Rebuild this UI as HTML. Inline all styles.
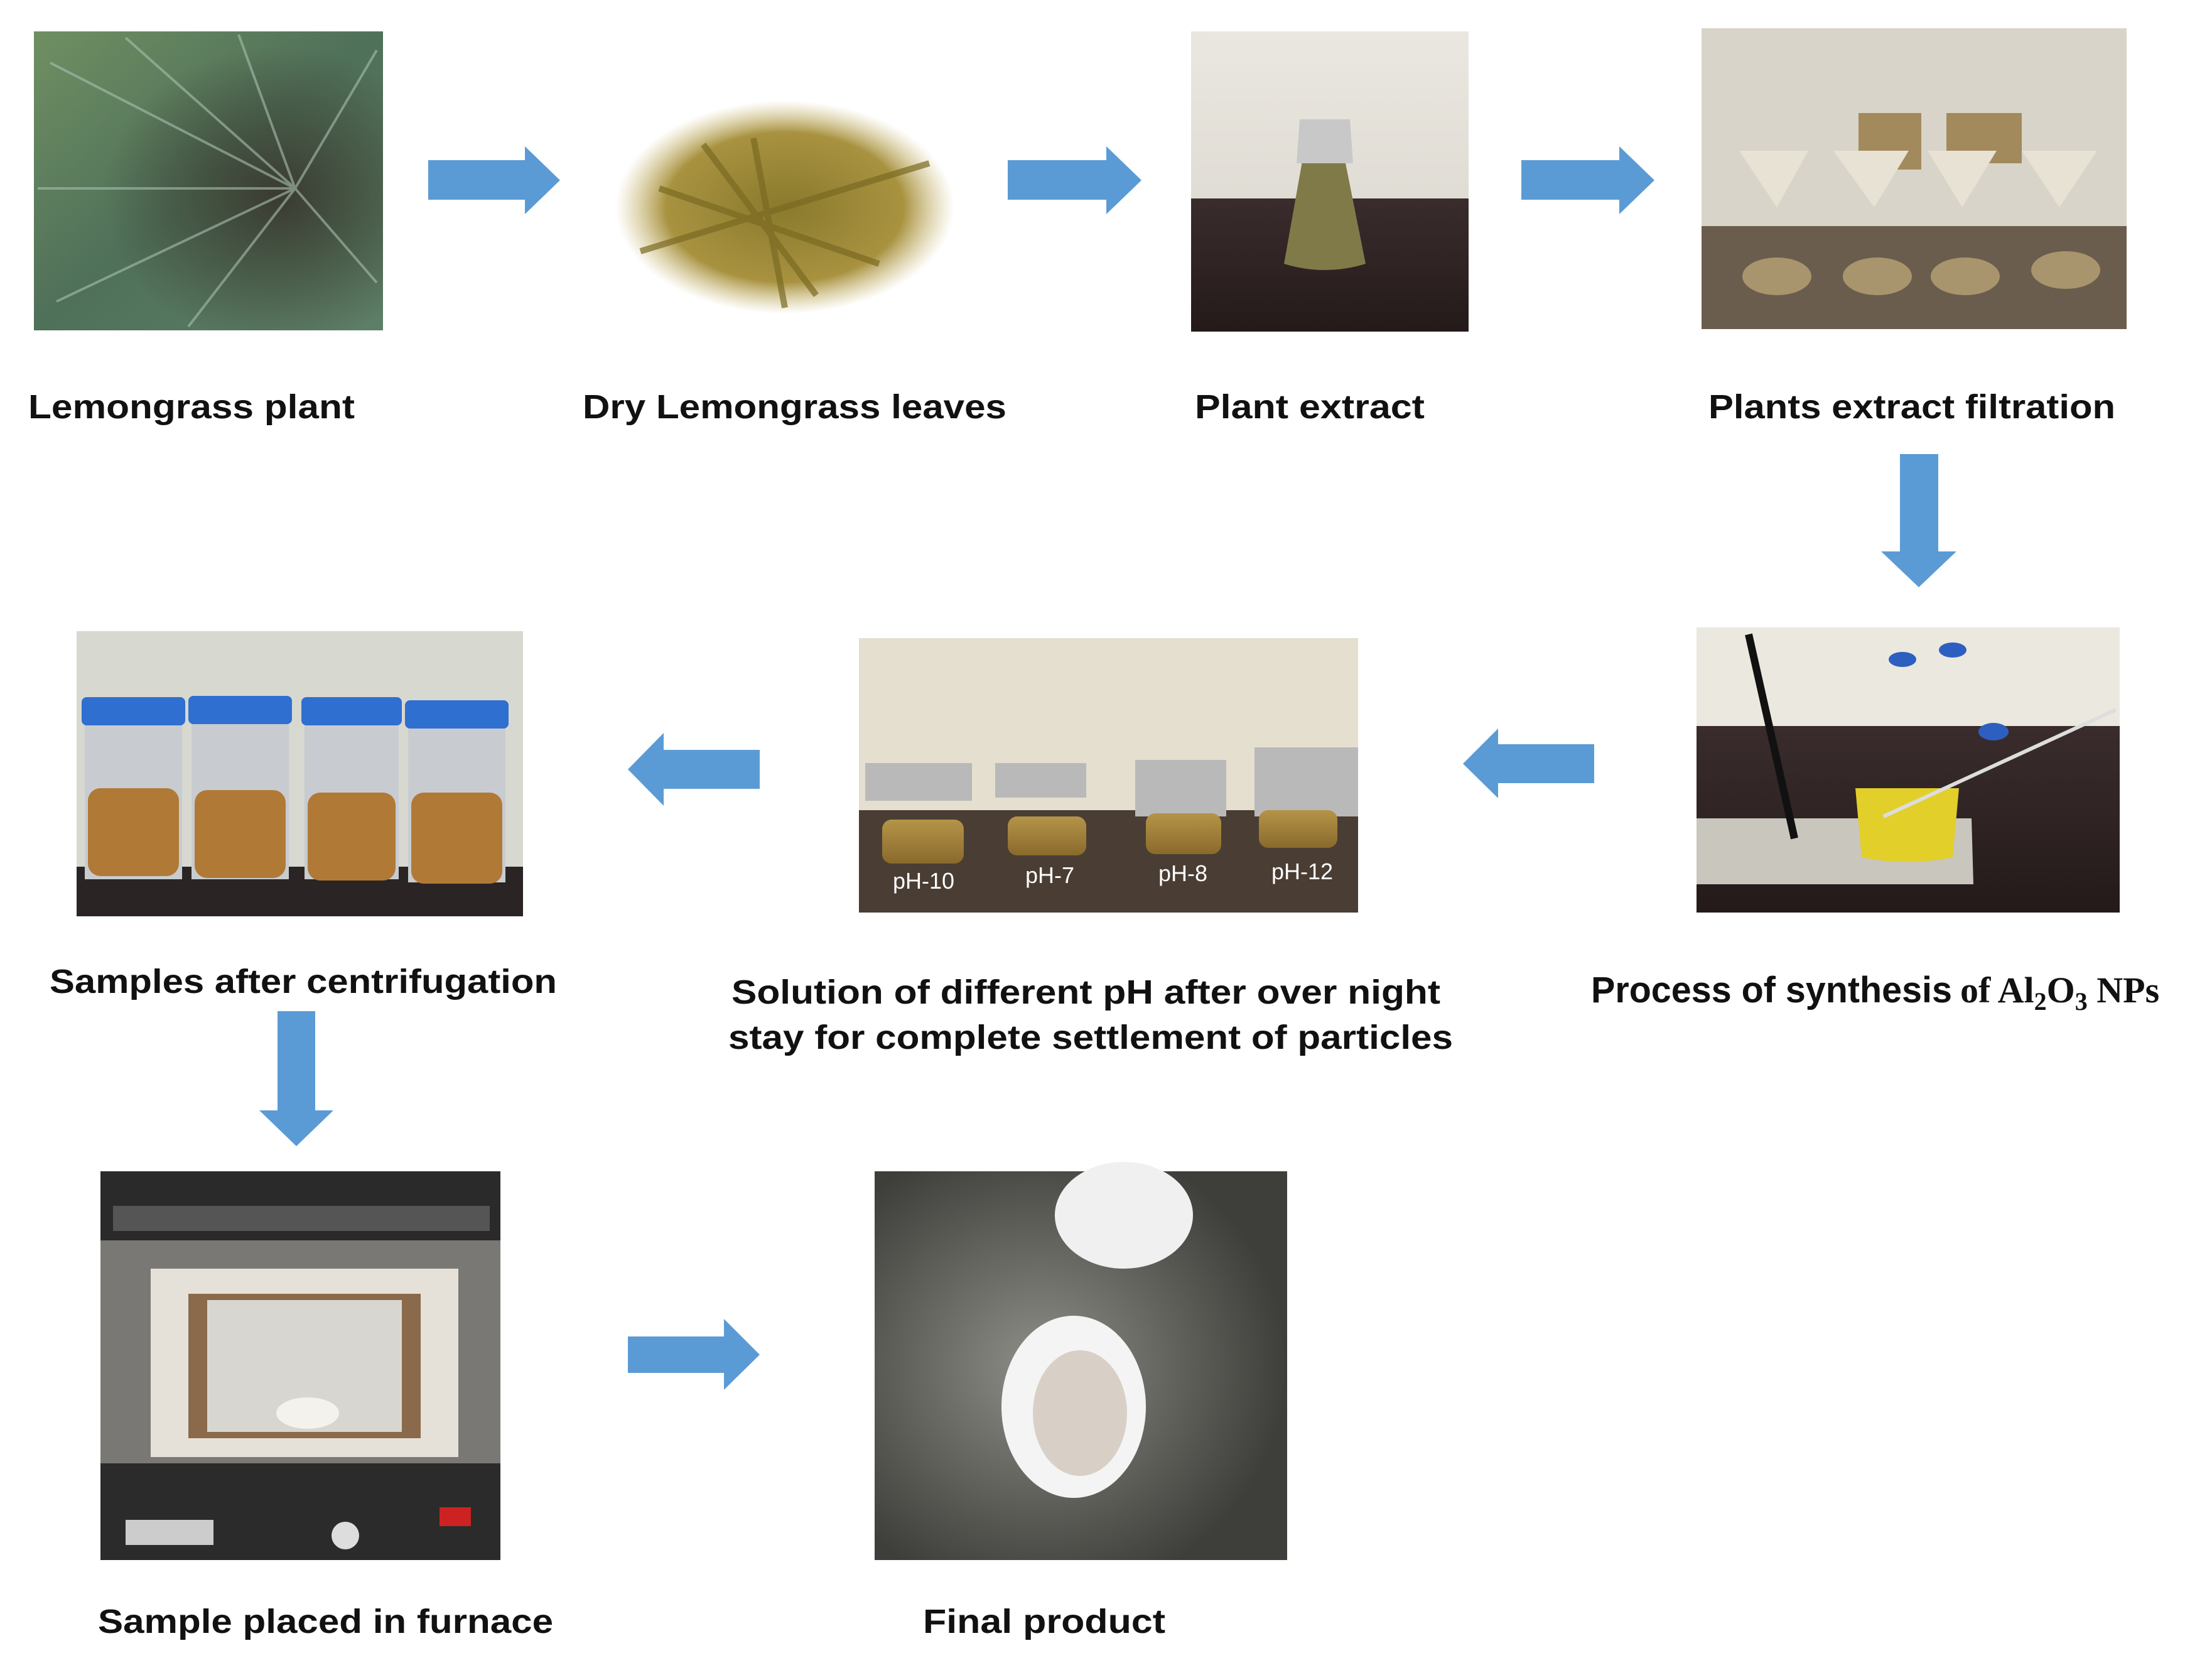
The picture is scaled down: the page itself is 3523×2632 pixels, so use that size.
<!DOCTYPE html>
<html><head><meta charset="utf-8"><style>
html,body{margin:0;padding:0;background:#fff;}
svg{display:block;}
text{font-family:"Liberation Sans",Arial,sans-serif;font-weight:bold;fill:#111;}
</style></head><body>
<svg width="3523" height="2632" viewBox="0 0 3523 2632" xmlns="http://www.w3.org/2000/svg">
<defs>
<linearGradient id="grass" x1="0" y1="0" x2="1" y2="1"><stop offset="0" stop-color="#6f8f62"/><stop offset="0.5" stop-color="#4f7059"/><stop offset="1" stop-color="#5e7f68"/></linearGradient>
<radialGradient id="grassc" cx="0.7" cy="0.55" r="0.5"><stop offset="0" stop-color="#3a3b30"/><stop offset="1" stop-color="#3a3b30" stop-opacity="0"/></radialGradient>
<radialGradient id="leaf" cx="0.5" cy="0.5" r="0.5"><stop offset="0" stop-color="#8a7a2c"/><stop offset="0.7" stop-color="#a89240"/><stop offset="1" stop-color="#c8b46a" stop-opacity="0"/></radialGradient>
<linearGradient id="wall" x1="0" y1="0" x2="0" y2="1"><stop offset="0" stop-color="#eae7e0"/><stop offset="1" stop-color="#d8d4cc"/></linearGradient>
<linearGradient id="dark" x1="0" y1="0" x2="0" y2="1"><stop offset="0" stop-color="#3a2c2c"/><stop offset="1" stop-color="#241a1a"/></linearGradient>
<linearGradient id="liq" x1="0" y1="0" x2="0" y2="1"><stop offset="0" stop-color="#b59448"/><stop offset="1" stop-color="#8a6a2c"/></linearGradient>
<radialGradient id="pot" cx="0.4" cy="0.5" r="0.6"><stop offset="0" stop-color="#8e8e88"/><stop offset="1" stop-color="#3e3e3a"/></radialGradient>
</defs>

<!-- Photo 1 lemongrass -->
<rect x="54" y="50" width="556" height="476" fill="url(#grass)"/>
<rect x="54" y="50" width="556" height="476" fill="url(#grassc)"/>
<g stroke="#a9c0b0" stroke-width="4" opacity="0.6">
<line x1="470" y1="300" x2="80" y2="100"/><line x1="470" y1="300" x2="200" y2="60"/><line x1="470" y1="300" x2="600" y2="80"/><line x1="470" y1="300" x2="90" y2="480"/><line x1="470" y1="300" x2="300" y2="520"/><line x1="470" y1="300" x2="600" y2="450"/><line x1="470" y1="300" x2="60" y2="300"/><line x1="470" y1="300" x2="380" y2="55"/>
</g>

<!-- Photo 2 dry leaves -->
<ellipse cx="1250" cy="330" rx="270" ry="170" fill="url(#leaf)"/>
<g stroke="#7a6a22" stroke-width="10" opacity="0.7">
<line x1="1050" y1="300" x2="1400" y2="420"/><line x1="1120" y1="230" x2="1300" y2="470"/><line x1="1020" y1="400" x2="1480" y2="260"/><line x1="1200" y1="220" x2="1250" y2="490"/>
</g>

<!-- Photo 3 plant extract -->
<rect x="1897" y="50" width="442" height="478" fill="url(#wall)"/>
<rect x="1897" y="316" width="442" height="212" fill="url(#dark)"/>
<path d="M2085,195 L2130,195 L2175,420 Q2110,440 2045,420 Z" fill="#7f7a48"/>
<path d="M2070,190 L2150,190 L2155,260 L2065,260 Z" fill="#c8c8c8"/>

<!-- Photo 4 filtration -->
<rect x="2710" y="45" width="677" height="479" fill="#d9d4c9"/>
<rect x="2710" y="360" width="677" height="164" fill="#6a5d4d"/>
<g fill="#a38a5c"><rect x="2960" y="180" width="100" height="90"/><rect x="3100" y="180" width="120" height="80"/></g>
<g fill="#e8e2d4"><path d="M2770,240 L2880,240 L2830,330 Z"/><path d="M2920,240 L3040,240 L2985,330 Z"/><path d="M3070,240 L3180,240 L3125,330 Z"/><path d="M3220,240 L3340,240 L3280,330 Z"/></g>
<g fill="#b8a476" opacity="0.8"><ellipse cx="2830" cy="440" rx="55" ry="30"/><ellipse cx="2990" cy="440" rx="55" ry="30"/><ellipse cx="3130" cy="440" rx="55" ry="30"/><ellipse cx="3290" cy="430" rx="55" ry="30"/></g>

<!-- Top-row arrows -->
<path d="M682,255 L836,255 L836,233 L892,287 L836,341 L836,318 L682,318 Z" fill="#5b9bd5"/>
<path d="M1605,255 L1762,255 L1762,233 L1818,287 L1762,341 L1762,318 L1605,318 Z" fill="#5b9bd5"/>
<path d="M2423,255 L2579,255 L2579,233 L2635,287 L2579,341 L2579,318 L2423,318 Z" fill="#5b9bd5"/>

<!-- Top labels -->
<text x="45" y="666" font-size="54" textLength="520" lengthAdjust="spacingAndGlyphs">Lemongrass plant</text>
<text x="928" y="666" font-size="54" textLength="675" lengthAdjust="spacingAndGlyphs">Dry Lemongrass leaves</text>
<text x="1903" y="666" font-size="54" textLength="366" lengthAdjust="spacingAndGlyphs">Plant extract</text>
<text x="2721" y="666" font-size="54" textLength="648" lengthAdjust="spacingAndGlyphs">Plants extract filtration</text>

<!-- Down arrow 1 -->
<path d="M3026,723 L3087,723 L3087,878 L3116,878 L3056,935 L2996,878 L3026,878 Z" fill="#5b9bd5"/>

<!-- Photo 5 synthesis -->
<rect x="2702" y="999" width="674" height="454" fill="#ebe8df"/>
<rect x="2702" y="1156" width="674" height="297" fill="url(#dark)"/>
<path d="M2702,1303 L3140,1303 L3143,1408 L2702,1408 Z" fill="#c9c6bd"/>
<line x1="2785" y1="1010" x2="2858" y2="1335" stroke="#111" stroke-width="12"/>
<path d="M2955,1255 L3120,1255 L3110,1365 Q3040,1380 2965,1365 Z" fill="#e2cf2a"/>
<line x1="3000" y1="1300" x2="3370" y2="1130" stroke="#ddd" stroke-width="6"/>
<ellipse cx="3030" cy="1050" rx="22" ry="12" fill="#2d5fc0"/><ellipse cx="3110" cy="1035" rx="22" ry="12" fill="#2d5fc0"/><ellipse cx="3175" cy="1165" rx="24" ry="14" fill="#2d5fc0"/>
<text x="2534" y="1596" font-size="58" textLength="575" lengthAdjust="spacingAndGlyphs">Process of synthesis</text>
<text x="3122" y="1596" font-size="58" style="font-family:'Liberation Serif',serif">of Al<tspan font-size="40" dy="12">2</tspan><tspan dy="-12">O</tspan><tspan font-size="40" dy="12">3</tspan><tspan dy="-12"> NPs</tspan></text>

<!-- Left arrows -->
<path d="M2539,1185 L2386,1185 L2386,1160 L2330,1216 L2386,1271 L2386,1247 L2539,1247 Z" fill="#5b9bd5"/>
<path d="M1210,1194 L1057,1194 L1057,1167 L1000,1225 L1057,1283 L1057,1256 L1210,1256 Z" fill="#5b9bd5"/>

<!-- Photo 6 pH -->
<rect x="1368" y="1016" width="795" height="437" fill="#e4dfcf"/>
<rect x="1368" y="1290" width="795" height="163" fill="#4a3d34"/>
<g fill="#b9b9b9"><rect x="1378" y="1215" width="170" height="60"/><rect x="1585" y="1215" width="145" height="55"/><rect x="1808" y="1210" width="145" height="90"/><rect x="1998" y="1190" width="165" height="110"/></g>
<g fill="url(#liq)"><rect x="1405" y="1305" width="130" height="70" rx="15"/><rect x="1605" y="1300" width="125" height="62" rx="15"/><rect x="1825" y="1295" width="120" height="65" rx="15"/><rect x="2005" y="1290" width="125" height="60" rx="15"/></g>
<g style="fill:#fff;font-weight:normal" font-size="36">
<text x="1422" y="1415" style="fill:#fff;font-weight:normal">pH-10</text>
<text x="1633" y="1406" style="fill:#fff;font-weight:normal">pH-7</text>
<text x="1845" y="1403" style="fill:#fff;font-weight:normal">pH-8</text>
<text x="2025" y="1400" style="fill:#fff;font-weight:normal">pH-12</text>
</g>
<text x="1165" y="1598" font-size="54" textLength="1129" lengthAdjust="spacingAndGlyphs">Solution of different pH after over night</text>
<text x="1160" y="1670" font-size="54" textLength="1154" lengthAdjust="spacingAndGlyphs">stay for complete settlement of particles</text>

<!-- Photo 7 centrifugation -->
<rect x="122" y="1005" width="711" height="454" fill="#d7d8d0"/>
<rect x="122" y="1380" width="711" height="79" fill="#2a2524"/>
<g fill="#c8ccd0"><rect x="135" y="1120" width="155" height="280"/><rect x="305" y="1120" width="155" height="280"/><rect x="485" y="1120" width="150" height="280"/><rect x="650" y="1125" width="155" height="280"/></g>
<g fill="#2f6fd0"><rect x="130" y="1110" width="165" height="45" rx="8"/><rect x="300" y="1108" width="165" height="45" rx="8"/><rect x="480" y="1110" width="160" height="45" rx="8"/><rect x="645" y="1115" width="165" height="45" rx="8"/></g>
<g fill="#b07a36"><rect x="140" y="1255" width="145" height="140" rx="20"/><rect x="310" y="1258" width="145" height="140" rx="20"/><rect x="490" y="1262" width="140" height="140" rx="20"/><rect x="655" y="1262" width="145" height="145" rx="20"/></g>
<text x="79" y="1581" font-size="54" textLength="808" lengthAdjust="spacingAndGlyphs">Samples after centrifugation</text>

<!-- Down arrow 2 -->
<path d="M442,1610 L502,1610 L502,1768 L531,1768 L472,1825 L413,1768 L442,1768 Z" fill="#5b9bd5"/>

<!-- Photo 8 furnace -->
<rect x="160" y="1865" width="637" height="619" fill="#7a7874"/>
<rect x="160" y="1865" width="637" height="110" fill="#2a2a2a"/>
<rect x="180" y="1920" width="600" height="40" fill="#555"/>
<rect x="240" y="2020" width="490" height="300" fill="#e6e1d8"/>
<rect x="300" y="2060" width="370" height="230" fill="#8a6a4a"/>
<rect x="330" y="2070" width="310" height="210" fill="#d8d6d0"/>
<ellipse cx="490" cy="2250" rx="50" ry="25" fill="#f4f2ec"/>
<rect x="160" y="2330" width="637" height="154" fill="#2b2b2b"/>
<rect x="200" y="2420" width="140" height="40" fill="#ccc"/><circle cx="550" cy="2445" r="22" fill="#ddd"/><rect x="700" y="2400" width="50" height="30" fill="#c22"/>
<text x="156" y="2600" font-size="54" textLength="725" lengthAdjust="spacingAndGlyphs">Sample placed in furnace</text>

<!-- Right arrow bottom -->
<path d="M1000,2128 L1153,2128 L1153,2100 L1210,2157 L1153,2213 L1153,2186 L1000,2186 Z" fill="#5b9bd5"/>

<!-- Photo 9 final product -->
<rect x="1393" y="1865" width="657" height="619" fill="url(#pot)"/>
<ellipse cx="1790" cy="1935" rx="110" ry="85" fill="#f0f0f0"/>
<ellipse cx="1710" cy="2240" rx="115" ry="145" fill="#f4f4f4"/>
<ellipse cx="1720" cy="2250" rx="75" ry="100" fill="#d8d0c6"/>
<text x="1470" y="2600" font-size="54" textLength="386" lengthAdjust="spacingAndGlyphs">Final product</text>
</svg>
</body></html>
